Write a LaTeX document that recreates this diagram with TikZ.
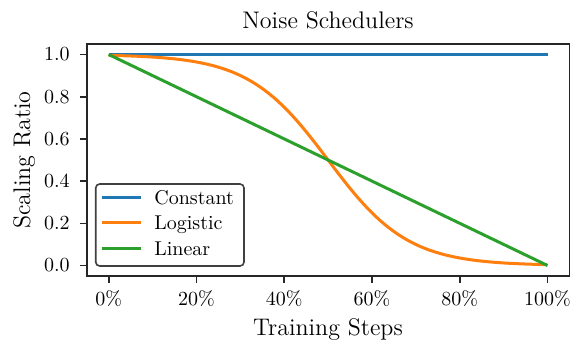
\documentclass[tikz,border=0pt]{standalone}
\definecolor{tabblue}{HTML}{1F77B4}
\definecolor{taborange}{HTML}{FF7F0E}
\definecolor{tabgreen}{HTML}{2CA02C}
\begin{document}
\begin{tikzpicture}[x=0.5pt,y=-0.5pt,
  tickmark/.style={line width=0.8pt, black!85},
  ticklab/.style={font=\fontsize{10}{12}\selectfont, inner sep=0pt},
  biglab/.style={font=\fontsize{12}{14}\selectfont, inner sep=0pt},
  curve/.style={line width=1.5pt},
  legtext/.style={font=\fontsize{10}{12}\selectfont, inner sep=0pt, anchor=west},
]
\useasboundingbox (0,0) rectangle (573,339);
% data -> pixel: x = 108.7 + 438.8 t ; y = 265.5 - 211 v
% curves
\draw[curve, tabblue] (108.7,54.5) -- (547.5,54.5);
\draw[curve, taborange] plot[domain=0:1, samples=150, smooth]
  ({108.7+438.8*\x}, {265.5-211/(1+exp(11*(\x-0.5)))});
\draw[curve, tabgreen] (108.7,54.5) -- (547.5,265.5);
% frame
\draw[line width=0.8pt, black!85] (86.8,44) rectangle (569.4,276);
% y ticks
\foreach \v/\l in {0/0.0,0.2/0.2,0.4/0.4,0.6/0.6,0.8/0.8,1/1.0}{
  \draw[tickmark] (86.8,{265.5-211*\v}) -- (79.8,{265.5-211*\v});
  \node[ticklab, anchor=east] (yl\l) at (70,{265.5-211*\v}) {\l};
}
% x ticks
\foreach \t/\l in {0/0,0.2/20,0.4/40,0.6/60,0.8/80,1/100}{
  \draw[tickmark] ({108.7+438.8*\t},276) -- ({108.7+438.8*\t},283);
  \node[ticklab, anchor=base] (xl\l) at ({108.7+438.8*\t},305) {\l\%};
}
% labels
\node[biglab, anchor=base] (title) at (328,28) {Noise Schedulers};
\node[biglab, anchor=base] (xlabel) at (328,335) {Training Steps};
\node[biglab, anchor=base, rotate=90] (ylabel) at (30,160) {Scaling Ratio};
% legend
\draw[line width=0.8pt, black!75, fill=white, rounded corners=2pt] (95.7,184) rectangle (244,266);
\coordinate (l1a) at (101.7,197.3); \coordinate (l1b) at (141,197.3);
\coordinate (l2a) at (101.7,222.7); \coordinate (l2b) at (141,222.7);
\coordinate (l3a) at (101.7,248.5); \coordinate (l3b) at (141,248.5);
\draw[curve, tabblue] (l1a) -- (l1b);
\draw[curve, taborange] (l2a) -- (l2b);
\draw[curve, tabgreen] (l3a) -- (l3b);
\node[legtext, anchor=base west] (lc) at (154,204) {Constant};
\node[legtext, anchor=base west] (lg) at (154,229.5) {Logistic};
\node[legtext, anchor=base west] (ll) at (154,255.3) {Linear};
\end{tikzpicture}
\end{document}
